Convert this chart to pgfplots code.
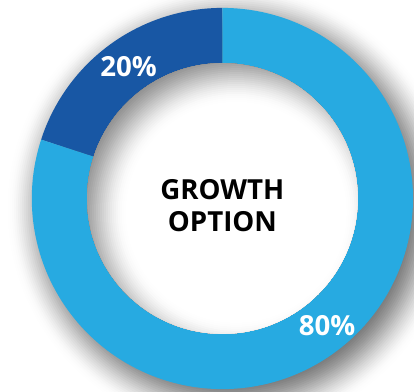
\documentclass[border=0pt]{standalone}
\usepackage{pgfplots}
\pgfplotsset{compat=1.18}
\usepackage{pgfplotstable}
\usepackage{fontspec}
\setmainfont{Open Sans}
\pgfdeclarelayer{background}
\pgfsetlayers{background,main}
\definecolor{lightb}{HTML}{27AAE1}
\definecolor{darkb}{HTML}{1857A4}
\pgfplotstableread{
label value
Dark 20
Light 80
}\data
\begin{document}
\pgfplotstablegetelem{0}{value}\of\data
\pgfmathsetmacro\aA{90+3.6*\pgfplotsretval}
\pgfplotstablegetelem{1}{value}\of\data
\pgfmathsetmacro\aB{\aA+3.6*\pgfplotsretval}
\begin{tikzpicture}
\begin{axis}[hide axis, scale only axis, width=414pt, height=396pt,
  xmin=-220, xmax=194, ymin=-195, ymax=201, clip=false]
\coordinate (C) at (axis cs:0,0);
\addplot[fill=darkb, draw=none, domain=90:\aA, samples=60] ({193*cos(x)},{193*sin(x)}) -- (axis cs:0,0) -- cycle;
\addplot[fill=lightb, draw=none, domain=\aA:\aB, samples=200] ({193*cos(x)},{193*sin(x)}) -- (axis cs:0,0) -- cycle;
\end{axis}
% outer drop shadow
\begin{pgfonlayer}{background}
\foreach \d in {228,226,...,170}{
  \pgfmathsetmacro\t{min(max((\d-170)/58,0),1)}
  \pgfmathsetmacro\p{56*(1-\t*\t*(3-2*\t))}
  \fill[black!\p] ([shift={(9pt,-10pt)}]C) circle[radius=\d pt];
}
\end{pgfonlayer}
% hole with inner shadow
\begin{scope}
\clip (C) circle[radius=137pt];
\fill[black!48] (C) circle[radius=137pt];
\foreach \d in {170,168,...,112}{
  \pgfmathsetmacro\t{min(max((\d-112)/58,0),1)}
  \pgfmathsetmacro\p{48*(\t*\t*(3-2*\t))}
  \fill[black!\p] ([shift={(14pt,-14pt)}]C) circle[radius=\d pt];
}
\fill[white] ([shift={(14pt,-14pt)}]C) circle[radius=111pt];
\end{scope}
\node[white, font=\bfseries\fontsize{28}{28}\selectfont] at ([shift={(-95pt,134pt)}]C) {20\%};
\node[white, font=\bfseries\fontsize{28}{28}\selectfont] at ([shift={(106pt,-129pt)}]C) {80\%};
\node[black, align=center, font=\bfseries\fontsize{28}{33}\selectfont] at ([shift={(0pt,-7pt)}]C) {GROWTH\\OPTION};
\pgfresetboundingbox
\useasboundingbox (current axis.south west) rectangle (current axis.north east);
\end{tikzpicture}
\end{document}
